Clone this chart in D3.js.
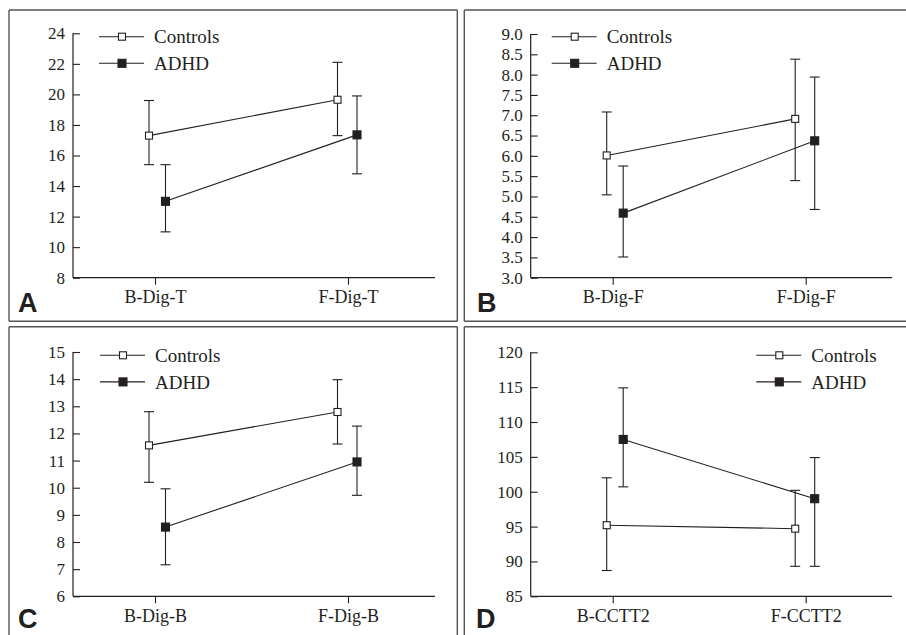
<!DOCTYPE html>
<html>
<head>
<meta charset="utf-8">
<script src="https://cdn.jsdelivr.net/npm/d3@7"></script>
<style>
  html, body { margin: 0; padding: 0; background: #fff; }
  svg { display: block; }
  svg text { font-family: "Liberation Serif", Tinos, "Times New Roman", "Noto Serif", "DejaVu Serif", serif; fill: #231f20; }
  svg text.plabel { font-family: "Liberation Sans", Arimo, Arial, sans-serif; font-weight: bold; }
</style>
</head>
<body>
<svg id="chart" width="906" height="635"></svg>
<script>
// ---------- DATA ----------
const seriesNames = ["Controls", "ADHD"];

const categoriesA = ["B-Dig-T", "F-Dig-T"];
const controlsMeanA = [17.3, 19.65];
const controlsLowA  = [15.4, 17.3];
const controlsHighA = [19.6, 22.1];
const adhdMeanA = [13.0, 17.35];
const adhdLowA  = [11.0, 14.8];
const adhdHighA = [15.4, 19.9];
const ticksA = [8, 10, 12, 14, 16, 18, 20, 22, 24];

const categoriesB = ["B-Dig-F", "F-Dig-F"];
const controlsMeanB = [6.01, 6.91];
const controlsLowB  = [5.04, 5.39];
const controlsHighB = [7.08, 8.38];
const adhdMeanB = [4.59, 6.37];
const adhdLowB  = [3.51, 4.68];
const adhdHighB = [5.75, 7.94];
const ticksB = [3.0, 3.5, 4.0, 4.5, 5.0, 5.5, 6.0, 6.5, 7.0, 7.5, 8.0, 8.5, 9.0];

const categoriesC = ["B-Dig-B", "F-Dig-B"];
const controlsMeanC = [11.56, 12.79];
const controlsLowC  = [10.2, 11.61];
const controlsHighC = [12.8, 13.98];
const adhdMeanC = [8.55, 10.95];
const adhdLowC  = [7.16, 9.72];
const adhdHighC = [9.96, 12.27];
const ticksC = [6, 7, 8, 9, 10, 11, 12, 13, 14, 15];

const categoriesD = ["B-CCTT2", "F-CCTT2"];
const controlsMeanD = [95.2, 94.7];
const controlsLowD  = [88.7, 89.3];
const controlsHighD = [102.0, 100.2];
const adhdMeanD = [107.5, 99.0];
const adhdLowD  = [100.7, 89.3];
const adhdHighD = [114.9, 104.9];
const ticksD = [85, 90, 95, 100, 105, 110, 115, 120];

const panelLabels = ["A", "B", "C", "D"];

// ---------- LAYOUT ----------
const svg = d3.select("#chart");
const ink = "#231f20";
const serifFont = '"Liberation Serif", Tinos, "Times New Roman", "Noto Serif", "DejaVu Serif", serif';

const panels = [
  { label: panelLabels[0], cats: categoriesA, ticks: ticksA, fmt: d3.format("d"),
    cm: controlsMeanA, cl: controlsLowA, ch: controlsHighA, am: adhdMeanA, al: adhdLowA, ah: adhdHighA,
    ax: 73, top: 33.3, bottom: 277.7, xEnd: 435, legX: 99, legY: 36.7,
    frame: { x0: 9, y0: 10, x1: 457.3, y1: 321.3, right: true, bottomEdge: true }, labX: 18, labY: 312 },
  { label: panelLabels[1], cats: categoriesB, ticks: ticksB, fmt: d3.format(".1f"),
    cm: controlsMeanB, cl: controlsLowB, ch: controlsHighB, am: adhdMeanB, al: adhdLowB, ah: adhdHighB,
    ax: 530.7, top: 34, bottom: 277.7, xEnd: 892, legX: 551.7, legY: 36.7,
    frame: { x0: 464.3, y0: 10, x1: 906, y1: 321.3, right: false, bottomEdge: true }, labX: 477, labY: 312 },
  { label: panelLabels[2], cats: categoriesC, ticks: ticksC, fmt: d3.format("d"),
    cm: controlsMeanC, cl: controlsLowC, ch: controlsHighC, am: adhdMeanC, al: adhdLowC, ah: adhdHighC,
    ax: 73, top: 352, bottom: 596.3, xEnd: 435, legX: 100, legY: 355.3,
    frame: { x0: 9, y0: 326.7, x1: 457.3, y1: 640, right: true, bottomEdge: false }, labX: 18, labY: 628 },
  { label: panelLabels[3], cats: categoriesD, ticks: ticksD, fmt: d3.format("d"),
    cm: controlsMeanD, cl: controlsLowD, ch: controlsHighD, am: adhdMeanD, al: adhdLowD, ah: adhdHighD,
    ax: 530.7, top: 352.3, bottom: 596.3, xEnd: 892, legX: 756.3, legY: 355.3,
    frame: { x0: 464.3, y0: 326.7, x1: 906, y1: 640, right: false, bottomEdge: false }, labX: 476, labY: 628 }
];

// horizontal offsets of the two series around each category tick
const seriesOffset = [[-6, -10.5], [10.5, 9]]; // [series][category]

panels.forEach(p => {
  const g = svg.append("g");

  // frame
  const f = p.frame;
  const fr = g.append("g").attr("stroke", "#555").attr("stroke-width", 1.4).attr("fill", "none");
  fr.append("line").attr("x1", f.x0).attr("x2", f.x1).attr("y1", f.y0).attr("y2", f.y0);
  fr.append("line").attr("x1", f.x0).attr("x2", f.x0).attr("y1", f.y0).attr("y2", f.y1);
  if (f.right) fr.append("line").attr("x1", f.x1).attr("x2", f.x1).attr("y1", f.y0).attr("y2", f.y1);
  if (f.bottomEdge) fr.append("line").attr("x1", f.x0).attr("x2", f.x1).attr("y1", f.y1).attr("y2", f.y1);

  const y = d3.scaleLinear()
    .domain([p.ticks[0], p.ticks[p.ticks.length - 1]])
    .range([p.bottom, p.top]);
  const x = d3.scalePoint().domain(p.cats).range([p.ax + 82, p.ax + 275]);

  // y axis (ticks inward)
  const yAxis = d3.axisLeft(y).tickValues(p.ticks).tickFormat(p.fmt).tickSize(0).tickPadding(8);
  const yg = g.append("g").attr("transform", `translate(${p.ax},0)`).call(yAxis)
    .attr("font-family", serifFont);
  yg.select(".domain").remove();
  yg.selectAll(".tick text").attr("font-size", 17).attr("fill", ink).attr("font-family", serifFont);
  yg.selectAll(".tick").append("line").attr("x1", 0).attr("x2", 7)
    .attr("stroke", ink).attr("stroke-width", 1.1);
  g.append("line").attr("x1", p.ax).attr("x2", p.ax).attr("y1", p.top).attr("y2", p.bottom)
    .attr("stroke", ink).attr("stroke-width", 1.2);

  // x axis (ticks outward)
  const xAxis = d3.axisBottom(x).tickSize(7).tickPadding(6).tickSizeOuter(0);
  const xg = g.append("g").attr("transform", `translate(0,${p.bottom})`).call(xAxis)
    .attr("font-family", serifFont);
  xg.select(".domain").remove();
  xg.selectAll(".tick line").attr("stroke", ink).attr("stroke-width", 1.1);
  xg.selectAll(".tick text").attr("font-size", 18).attr("fill", ink).attr("font-family", serifFont);
  g.append("line").attr("x1", p.ax).attr("x2", p.xEnd).attr("y1", p.bottom).attr("y2", p.bottom)
    .attr("stroke", ink).attr("stroke-width", 1.2);

  const series = [
    { name: seriesNames[0], mean: p.cm, lo: p.cl, hi: p.ch, fill: "#fff", size: 7 },
    { name: seriesNames[1], mean: p.am, lo: p.al, hi: p.ah, fill: ink, size: 8 }
  ];

  series.forEach((s, si) => {
    const px = i => x(p.cats[i]) + seriesOffset[si][i];
    const pts = p.cats.map((c, i) => [px(i), y(s.mean[i])]);
    // error bars
    p.cats.forEach((c, i) => {
      const cx = px(i);
      const eb = g.append("g").attr("stroke", ink).attr("stroke-width", 1.1);
      eb.append("line").attr("x1", cx).attr("x2", cx).attr("y1", y(s.lo[i])).attr("y2", y(s.hi[i]));
      eb.append("line").attr("x1", cx - 5).attr("x2", cx + 5).attr("y1", y(s.lo[i])).attr("y2", y(s.lo[i]));
      eb.append("line").attr("x1", cx - 5).attr("x2", cx + 5).attr("y1", y(s.hi[i])).attr("y2", y(s.hi[i]));
    });
    // connecting line
    g.append("path").attr("d", d3.line()(pts)).attr("fill", "none")
      .attr("stroke", ink).attr("stroke-width", 1.1);
    // markers
    g.selectAll(null).data(pts).enter().append("rect")
      .attr("x", d => d[0] - s.size / 2).attr("y", d => d[1] - s.size / 2)
      .attr("width", s.size).attr("height", s.size)
      .attr("fill", s.fill).attr("stroke", ink).attr("stroke-width", 1.1);

    // legend
    const ly = p.legY + si * 26.6;
    g.append("line").attr("x1", p.legX).attr("x2", p.legX + 45).attr("y1", ly).attr("y2", ly)
      .attr("stroke", ink).attr("stroke-width", 1.1);
    g.append("rect").attr("x", p.legX + 23 - s.size / 2).attr("y", ly - s.size / 2)
      .attr("width", s.size).attr("height", s.size)
      .attr("fill", s.fill).attr("stroke", ink).attr("stroke-width", 1.1);
    g.append("text").attr("x", p.legX + 55).attr("y", ly + 6.6)
      .attr("font-family", serifFont).attr("font-size", 19).text(s.name);
  });

  // panel label
  g.append("text").attr("class", "plabel").attr("x", p.labX).attr("y", p.labY)
    .attr("font-family", '"Liberation Sans", Arial, sans-serif').attr("font-weight", "bold")
    .attr("font-size", 27).text(p.label);
});
</script>
</body>
</html>
